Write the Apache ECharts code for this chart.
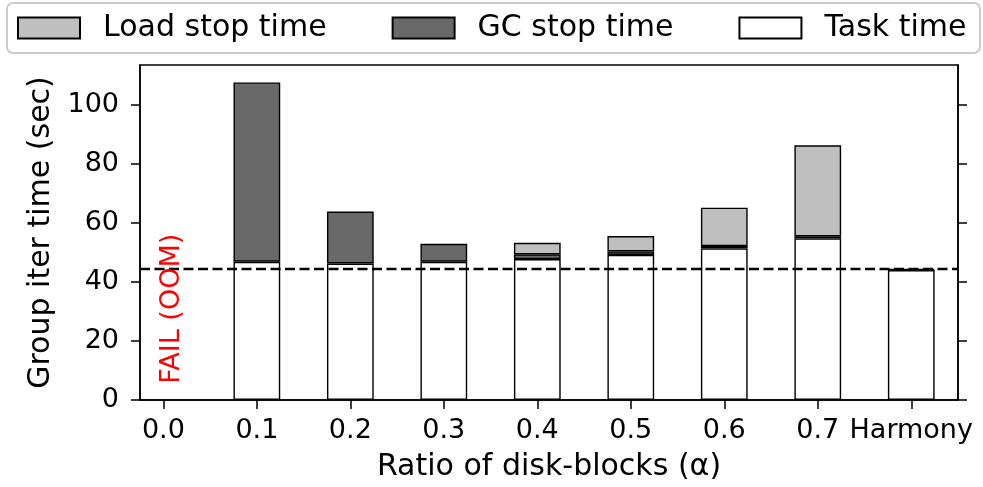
<!DOCTYPE html>
<html>
<head>
<meta charset="utf-8">
<script src="https://cdn.jsdelivr.net/npm/echarts@6/dist/echarts.min.js"></script>
<style>
  html, body { margin: 0; padding: 0; background: #fff; }
  #chart { width: 983px; height: 487px; }
</style>
</head>
<body>
<div id="chart"></div>
<script>
// Group iteration time breakdown per disk-block ratio
const categories = ['0.0', '0.1', '0.2', '0.3', '0.4', '0.5', '0.6', '0.7', 'Harmony'];
const taskTime     = [null, 46.8, 46.2, 46.8, 47.7, 49.1, 51.3, 54.7, 44.0];
const gcStopTime   = [null, 60.7, 17.6, 6.1, 1.6, 1.2, 0.8, 0.7, 0.3];
const loadStopTime = [null, null, null, null, 3.9, 5.2, 13.0, 30.8, null];
const harmonyRef = 44.3;          // dashed reference line
const yTicks = [0, 20, 40, 60, 80, 100];
const yMax = 113.4;
const xMin = -0.25, xMax = 8.5;
const failLabel = 'FAIL (OOM)';
const failAt = [0.09, 5.5];

const FONT = 'DejaVu Sans';
const grid = { left: 140, right: 25, top: 65, bottom: 87 };
const plotW = 983 - grid.left - grid.right;
const barW = plotW / (xMax - xMin) * 0.5;

const xIdx = categories.map((_, i) => i);
// rows are [value, position] so the value column is the stacked one
const rows = arr => arr.map((v, i) => [v == null ? '-' : v, i]);

const barStyle = (color) => ({ color: color, borderColor: '#000', borderWidth: 1.4 });
const frame = {
  type: 'rect', z: 0,
  shape: { x: 7, y: 3, width: 973, height: 50, r: 6 },
  style: { fill: '#fff', stroke: '#cccccc', lineWidth: 2 }
};

const chart = echarts.init(document.getElementById('chart'), null, { renderer: 'canvas' });

chart.setOption({
  animation: false,
  backgroundColor: '#fff',
  textStyle: { fontFamily: FONT },
  graphic: [frame],
  legend: {
    left: 17, top: 13, padding: 0,
    icon: 'rect',
    itemWidth: 62, itemHeight: 21, itemGap: 65,
    data: ['Load stop time', 'GC stop time', 'Task time'],
    textStyle: { fontFamily: FONT, fontSize: 30, color: '#000', padding: [0, 0, 0, 18] },
    z: 5
  },
  grid: Object.assign({ show: true, borderColor: '#000', borderWidth: 1.5, backgroundColor: 'transparent' }, grid),
  xAxis: {
    type: 'value', min: xMin, max: xMax,
    name: 'Ratio of disk-blocks (α)', nameLocation: 'middle', nameGap: 52,
    nameTextStyle: { fontFamily: FONT, fontSize: 30, color: '#000' },
    axisLine: { show: true, onZero: false, lineStyle: { color: '#000', width: 1.5 } },
    axisTick: { show: true, inside: false, length: 9, customValues: xIdx, lineStyle: { color: '#000', width: 1.5 } },
    axisLabel: { customValues: xIdx, formatter: v => categories[Math.round(v)], fontFamily: FONT, fontSize: 27, color: '#000', margin: 17 },
    splitLine: { show: false }
  },
  yAxis: [{
    type: 'value', min: 0, max: yMax,
    name: 'Group iter time (sec)', nameLocation: 'middle', nameGap: 84,
    nameTextStyle: { fontFamily: FONT, fontSize: 30, color: '#000' },
    axisLine: { show: true, onZero: false, lineStyle: { color: '#000', width: 1.5 } },
    axisTick: { show: true, inside: false, length: 9, customValues: yTicks, lineStyle: { color: '#000', width: 1.5 } },
    axisLabel: { customValues: yTicks, fontFamily: FONT, fontSize: 27, color: '#000', margin: 21 },
    splitLine: { show: false }
  }, {
    type: 'value', min: 0, max: yMax, position: 'right',
    axisLine: { show: true, onZero: false, lineStyle: { color: '#000', width: 1.5 } },
    axisTick: { show: true, inside: false, length: 9, customValues: yTicks, lineStyle: { color: '#000', width: 1.5 } },
    axisLabel: { show: false, customValues: yTicks },
    splitLine: { show: false }
  }],
  series: [{
    name: 'Task time', type: 'bar', stack: 'total', barWidth: barW,
    encode: { x: 1, y: 0 },
    itemStyle: barStyle('#ffffff'), data: rows(taskTime), z: 2
  }, {
    name: 'GC stop time', type: 'bar', stack: 'total', barWidth: barW,
    encode: { x: 1, y: 0 },
    itemStyle: barStyle('#696969'), data: rows(gcStopTime), z: 2
  }, {
    name: 'Load stop time', type: 'bar', stack: 'total', barWidth: barW,
    encode: { x: 1, y: 0 },
    itemStyle: barStyle('#bfbfbf'), data: rows(loadStopTime), z: 2,
    markLine: {
      silent: true, symbol: 'none', z: 10,
      label: { show: false },
      lineStyle: { color: '#000', width: 2.3, type: [10, 4.5] },
      data: [{ yAxis: harmonyRef }]
    }
  }]
});

// rotated failure note above the empty 0.0 slot
const p = chart.convertToPixel({ xAxisIndex: 0, yAxisIndex: 0 }, failAt);
chart.setOption({
  graphic: [frame, {
    type: 'text', z: 20,
    x: p[0], y: p[1], rotation: Math.PI / 2,
    style: { text: failLabel, fill: '#ff0000', font: '27px "' + FONT + '"', align: 'left', verticalAlign: 'middle' }
  }]
});
</script>
</body>
</html>
